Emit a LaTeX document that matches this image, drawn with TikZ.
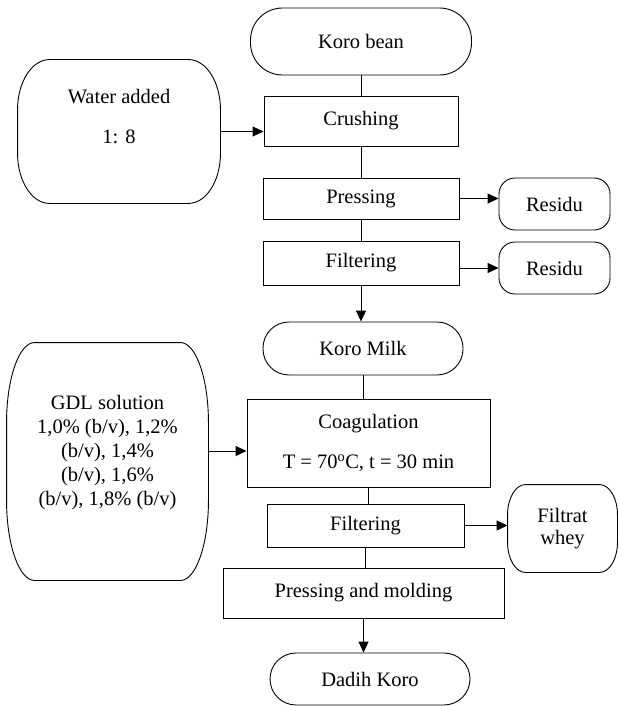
\documentclass[tikz,border=0pt]{standalone}
\usepackage{fontspec}
\setmainfont{Liberation Serif}
\usetikzlibrary{arrows.meta}

\begin{document}
\begin{tikzpicture}[x=1pt,y=-1pt,line width=0.9pt,
    font=\fontsize{20.5}{24}\selectfont,
    every node/.style={inner sep=0pt,align=center},
    proc/.style={draw,rectangle},
    term/.style={draw,rectangle,rounded corners=#1}]
  \useasboundingbox (0,0) rectangle (618,706);
  % main column
  \node[term=32pt,minimum width=221pt,minimum height=67pt] (bean) at (361,41.5) {Koro bean};
  \node[proc,minimum width=194pt,minimum height=50pt] (crush) at (361,121) {Crushing};
  \node[proc,minimum width=196pt,minimum height=41pt] (press) at (361,198.5) {Pressing};
  \node[proc,minimum width=196pt,minimum height=44pt] (filt) at (361,263) {Filtering};
  \node[term=26pt,minimum width=200pt,minimum height=53pt] (milk) at (363,348.5) {Koro Milk};
  \node[proc,minimum width=243pt,minimum height=88pt] (coag) at (368.5,443)
    {Coagulation\\[16pt]T = 70\textsuperscript{o}C, t = 30 min};
  \node[proc,minimum width=197pt,minimum height=43pt] (filtwhey) at (365.5,525.5) {Filtering};
  \node[proc,minimum width=281pt,minimum height=50pt] (mold) at (363.5,593) {Pressing and molding};
  \node[term=26pt,minimum width=200pt,minimum height=52pt] (dadih) at (370,679) {Dadih Koro};
  % side boxes
  \node[term=16pt,minimum width=111pt,minimum height=52pt] (res1) at (554.5,204) {Residu};
  \node[term=16pt,minimum width=111pt,minimum height=52pt] (res2) at (554.5,268) {Residu};
  \node[minimum width=109pt,minimum height=87pt] (whey) at (562.5,528.5) {Filtrat\\[-2pt]whey};
  \node[minimum width=202pt,minimum height=143pt] (water) at (119,131.5) {};
  \node (watertext) at (119,117) {Water added\\[16pt]1: 8};
  \node[minimum width=201pt,minimum height=237pt] (gdl) at (107.5,461.5) {};
  \node (gdltext) at (107.5,453)
    {GDL solution\\1,0\% (b/v), 1,2\%\\(b/v), 1,4\%\\(b/v), 1,6\%\\(b/v), 1,8\% (b/v)};
  % barrel outlines
  \draw ([xshift=32pt]water.north west) -- ([xshift=-32pt]water.north east)
    arc[start angle=90,end angle=0,x radius=32pt,y radius=50pt]
    -- ([yshift=50pt]water.south east)
    arc[start angle=0,end angle=-90,x radius=32pt,y radius=50pt]
    -- ([xshift=32pt]water.south west)
    arc[start angle=270,end angle=180,x radius=32pt,y radius=50pt]
    -- ([yshift=-50pt]water.north west)
    arc[start angle=180,end angle=90,x radius=32pt,y radius=50pt] -- cycle;
  \draw ([xshift=28pt]gdl.north west) -- ([xshift=-28pt]gdl.north east)
    arc[start angle=90,end angle=0,x radius=28pt,y radius=80pt]
    -- ([yshift=80pt]gdl.south east)
    arc[start angle=0,end angle=-90,x radius=28pt,y radius=80pt]
    -- ([xshift=28pt]gdl.south west)
    arc[start angle=270,end angle=180,x radius=28pt,y radius=80pt]
    -- ([yshift=-80pt]gdl.north west)
    arc[start angle=180,end angle=90,x radius=28pt,y radius=80pt] -- cycle;
  \draw ([xshift=18pt]whey.north west) -- ([xshift=-18pt]whey.north east)
    arc[start angle=90,end angle=0,x radius=18pt,y radius=30pt]
    -- ([yshift=30pt]whey.south east)
    arc[start angle=0,end angle=-90,x radius=18pt,y radius=30pt]
    -- ([xshift=18pt]whey.south west)
    arc[start angle=270,end angle=180,x radius=18pt,y radius=30pt]
    -- ([yshift=-30pt]whey.north west)
    arc[start angle=180,end angle=90,x radius=18pt,y radius=30pt] -- cycle;
  % connectors
  \draw (bean.south) -- (bean.south |- crush.north);
  \draw (crush.south) -- (crush.south |- press.north);
  \draw (press.south) -- (press.south |- filt.north);
  \draw (milk.south) -- (milk.south |- coag.north);
  \draw (coag.south) -- (coag.south |- filtwhey.north);
  \draw (filtwhey.south) -- (filtwhey.south |- mold.north);
  \coordinate (gdlin) at ([yshift=-8pt]coag.west);
  \begin{scope}[-{Triangle[length=11pt,width=10pt]}]
    \draw (filt.south) -- (filt.south |- milk.north);
    \draw (mold.south) -- (mold.south |- dadih.north);
    \draw (water.east) -- (water.east -| crush.west);
    \draw (press.east) -- (press.east -| res1.west);
    \draw (filt.east |- res2.west) -- (res2.west);
    \draw (gdlin -| gdl.east) -- (gdlin);
    \draw (filtwhey.east) -- (filtwhey.east -| whey.west);
  \end{scope}
\end{tikzpicture}
\end{document}
